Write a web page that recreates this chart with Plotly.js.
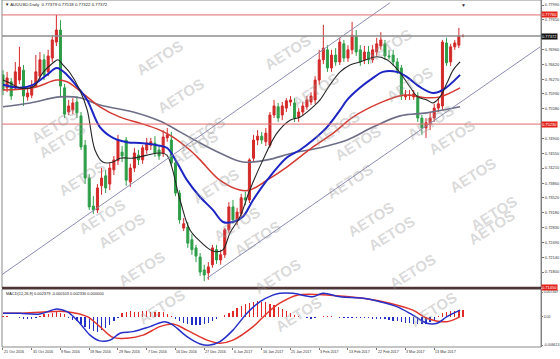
<!DOCTYPE html>
<html><head><meta charset="utf-8">
<script src="https://cdn.plot.ly/plotly-3.0.1.min.js"></script>
<style>html,body{margin:0;padding:0;background:#fff}#chart{width:560px;height:359px}</style>
</head><body><div id="chart"></div>
<script>
// ---------- DATA ----------
const openP = [0.7637,0.7607,0.7621,0.7607,0.7625,0.7648,0.7586,0.7590,0.7611,0.7634,
0.7672,0.7644,0.7676,0.7713,0.7741,0.7607,0.7551,0.7556,0.7574,0.7542,
0.7474,0.7398,0.7333,0.7324,0.7380,0.7403,0.7384,0.7417,0.7438,0.7458,
0.7486,0.7389,0.7421,0.7451,0.7440,0.7463,0.7474,0.7479,0.7463,0.7456,
0.7491,0.7486,0.7433,0.7363,0.7282,0.7284,0.7255,0.7236,0.7215,0.7185,
0.7178,0.7197,0.7232,0.7208,0.7220,0.7278,0.7331,0.7301,0.7315,0.7352,
0.7347,0.7444,0.7486,0.7495,0.7482,0.7474,0.7544,0.7563,0.7544,0.7560,
0.7574,0.7572,0.7539,0.7551,0.7563,0.7574,0.7579,0.7625,0.7672,0.7695,
0.7653,0.7683,0.7667,0.7709,0.7676,0.7695,0.7727,0.7695,0.7672,0.7690,
0.7672,0.7690,0.7704,0.7709,0.7681,0.7683,0.7667,0.7653,0.7586,0.7589,
0.7586,0.7588,0.7537,0.7514,0.7523,0.7537,0.7560,0.7565,0.7711,0.7667,
0.7702,0.7706,0.7727];
const highP = [0.7648,0.7644,0.7630,0.7667,0.7702,0.7660,0.7607,0.7625,0.7683,0.7690,
0.7685,0.7695,0.7729,0.7776,0.7764,0.7616,0.7579,0.7583,0.7588,0.7551,
0.7486,0.7407,0.7356,0.7384,0.7421,0.7417,0.7433,0.7449,0.7498,0.7472,
0.7493,0.7431,0.7468,0.7463,0.7474,0.7491,0.7491,0.7495,0.7472,0.7509,
0.7514,0.7505,0.7440,0.7370,0.7305,0.7296,0.7268,0.7243,0.7224,0.7197,
0.7203,0.7243,0.7243,0.7232,0.7282,0.7342,0.7347,0.7329,0.7361,0.7366,
0.7444,0.7498,0.7509,0.7505,0.7514,0.7551,0.7579,0.7572,0.7574,0.7583,
0.7588,0.7583,0.7560,0.7574,0.7588,0.7597,0.7634,0.7695,0.7753,0.7706,
0.7695,0.7699,0.7723,0.7718,0.7706,0.7760,0.7741,0.7706,0.7704,0.7704,
0.7706,0.7723,0.7736,0.7718,0.7695,0.7695,0.7676,0.7660,0.7602,0.7602,
0.7602,0.7597,0.7544,0.7537,0.7551,0.7570,0.7583,0.7718,0.7723,0.7709,
0.7718,0.7746,0.7731];
const lowP = [0.7590,0.7597,0.7579,0.7602,0.7616,0.7565,0.7577,0.7583,0.7607,0.7625,
0.7625,0.7634,0.7667,0.7704,0.7586,0.7537,0.7544,0.7546,0.7537,0.7463,
0.7384,0.7324,0.7315,0.7317,0.7359,0.7363,0.7370,0.7405,0.7428,0.7435,
0.7380,0.7377,0.7412,0.7428,0.7431,0.7454,0.7463,0.7447,0.7440,0.7447,
0.7482,0.7424,0.7356,0.7292,0.7275,0.7236,0.7220,0.7203,0.7171,0.7159,
0.7162,0.7190,0.7199,0.7197,0.7213,0.7271,0.7292,0.7289,0.7305,0.7335,
0.7340,0.7435,0.7474,0.7477,0.7472,0.7468,0.7537,0.7528,0.7532,0.7551,
0.7565,0.7528,0.7528,0.7542,0.7556,0.7567,0.7570,0.7614,0.7662,0.7644,
0.7644,0.7658,0.7660,0.7667,0.7667,0.7685,0.7681,0.7658,0.7662,0.7662,
0.7665,0.7681,0.7695,0.7672,0.7672,0.7658,0.7639,0.7579,0.7579,0.7579,
0.7579,0.7528,0.7498,0.7491,0.7509,0.7528,0.7551,0.7556,0.7658,0.7658,
0.7695,0.7699,0.7724];
const closeP = [0.7602,0.7630,0.7588,0.7644,0.7655,0.7588,0.7595,0.7611,0.7644,0.7672,
0.7637,0.7681,0.7718,0.7741,0.7611,0.7546,0.7565,0.7572,0.7549,0.7470,
0.7398,0.7331,0.7324,0.7375,0.7398,0.7375,0.7421,0.7440,0.7486,0.7449,
0.7393,0.7421,0.7456,0.7440,0.7468,0.7479,0.7482,0.7456,0.7449,0.7493,
0.7498,0.7433,0.7363,0.7301,0.7292,0.7247,0.7232,0.7217,0.7180,0.7173,
0.7192,0.7236,0.7208,0.7220,0.7278,0.7331,0.7301,0.7319,0.7352,0.7347,
0.7440,0.7486,0.7495,0.7486,0.7502,0.7544,0.7565,0.7537,0.7565,0.7577,
0.7579,0.7537,0.7551,0.7565,0.7579,0.7588,0.7625,0.7672,0.7699,0.7653,
0.7683,0.7667,0.7713,0.7676,0.7695,0.7729,0.7690,0.7667,0.7690,0.7672,
0.7695,0.7709,0.7718,0.7681,0.7679,0.7667,0.7648,0.7588,0.7590,0.7590,
0.7593,0.7537,0.7514,0.7526,0.7537,0.7560,0.7570,0.7713,0.7665,0.7702,
0.7711,0.7727,0.7727];

// moving averages (bar index, price)
const maBlackX = [0,1.7,4.1,7.3,9.7,12.2,13.4,14.6,16.3,18.7,20.5,22.4,24.3,26.8,28.5,31.7,35.1,38.2,39.9,43.1,45.5,48,50.4,52.1,53.6,55.3,57.7,60.1,63.3,66.7,69.9,72.3,75.5,77.2,79.6,82.1,84.5,86.9,91.1,93.5,95,96.7,99.1,101,103.2,104.7,106.4,108.1,109.6,111.3];
const maBlackY = [0.7625,0.7618,0.7607,0.7609,0.7642,0.7665,0.7672,0.7660,0.7642,0.7602,0.7556,0.7463,0.7435,0.7435,0.7444,0.7444,0.7451,0.7456,0.7451,0.7347,0.7278,0.7251,0.7232,0.7227,0.7232,0.7271,0.7308,0.7370,0.7440,0.7502,0.7532,0.7539,0.7563,0.7579,0.7614,0.7644,0.7660,0.7667,0.7679,0.7672,0.7660,0.7642,0.7609,0.7586,0.7579,0.7572,0.7586,0.7618,0.7648,0.7667];
const maBlueX = [0,4.1,7.3,10.7,13.1,15.6,18.7,20.5,23.6,26.8,30.2,33.4,37.5,39.9,42.4,44.8,48,51.1,53.6,56,58.4,60.9,64.3,69.2,72.3,75.5,78.9,82.1,83.8,86.9,90.1,92.5,95.9,98.4,101.5,104.7,107.1,111.3];
const maBlueY = [0.7614,0.7607,0.7614,0.7637,0.7653,0.7637,0.7602,0.7579,0.7516,0.7491,0.7481,0.7479,0.7474,0.7468,0.7433,0.7393,0.7354,0.7324,0.7296,0.7296,0.7308,0.7347,0.7393,0.7446,0.7463,0.7486,0.7516,0.7556,0.7579,0.7607,0.7630,0.7644,0.7644,0.7632,0.7609,0.7595,0.7602,0.7637];
const maRedX = [0,7.3,13.1,15.6,20.5,23.6,28.5,33.4,38.2,41.4,45.5,48,52.8,57.7,60.1,64.3,69.2,75.5,80.4,85.2,91.8,97.4,103.2,106.4,111.3];
const maRedY = [0.7602,0.7607,0.7625,0.7621,0.7586,0.7563,0.7539,0.7525,0.7509,0.7493,0.7463,0.7440,0.7393,0.7370,0.7370,0.7393,0.7424,0.7470,0.7502,0.7539,0.7572,0.7590,0.7584,0.7586,0.7607];
const maGreyX = [0,6.6,13.9,18.7,23.6,31.7,38.2,43.1,48,52.8,58.4,64.3,70.6,77.2,83.8,90.1,96.7,103.2,111.3];
const maGreyY = [0.7563,0.7572,0.7586,0.7584,0.7567,0.7551,0.7530,0.7505,0.7479,0.7456,0.7435,0.7440,0.7456,0.7468,0.7486,0.7516,0.7542,0.7549,0.7563];

// trend channel (two end points each)
const chanUpX = [-0.7, 94.2], chanUpY = [0.7171, 0.7804];
const chanLoX = [49.7, 130.8], chanLoY = [0.7166, 0.7702];

// horizontal levels
const levelRed = [0.7776, 0.7523];
const levelRedText = ['0.77760', '0.75230'];
const bidPrice = 0.7727, bidText = '0.77372';
const lowLevel = 0.7145, lowLevelText = '0.71450';

// MACD(12,26,9)
const macdHist = [0.0001,0.0001,0.0000,-0.0001,-0.0003,-0.0005,-0.0006,-0.0005,-0.0003,0.0003,
0.0006,0.0008,0.0010,0.0011,0.0010,0.0006,-0.0003,-0.0008,-0.0012,-0.0018,
-0.0026,-0.0033,-0.0038,-0.0040,-0.0036,-0.0030,-0.0022,-0.0012,-0.0004,0.0010,
0.0013,0.0014,0.0013,0.0013,0.0014,0.0014,0.0013,0.0013,0.0012,0.0011,
0.0008,0.0002,-0.0006,-0.0012,-0.0016,-0.0020,-0.0022,-0.0023,-0.0022,-0.0020,
-0.0017,-0.0012,-0.0007,-0.0002,0.0004,0.0010,0.0016,0.0022,0.0028,0.0032,
0.0036,0.0039,0.0040,0.0039,0.0037,0.0034,0.0030,0.0026,0.0020,0.0014,
0.0009,0.0005,0.0002,-0.0002,-0.0004,-0.0005,-0.0004,-0.0001,0.0002,0.0003,
0.0001,-0.0002,-0.0003,-0.0004,-0.0004,-0.0003,-0.0003,-0.0004,-0.0004,-0.0004,
-0.0005,-0.0005,-0.0006,-0.0007,-0.0008,-0.0010,-0.0012,-0.0014,-0.0016,-0.0017,
-0.0018,-0.0019,-0.0020,-0.0018,-0.0015,-0.0008,0.0003,0.0010,0.0012,0.0014,
0.0016,0.0018,0.0018];
const macdMainX = [0,4.1,9.0,13.1,15.6,18.7,21.2,23.6,26.1,28.5,31.7,35.8,39.4,41.4,44.8,48.0,50.4,52.8,56.0,59.4,62.6,65.7,67.4,70.6,75.5,77.9,82.1,87.7,91.8,95.9,99.8,103.2,105.7,108.1,111.3];
const macdMainY = [0.0009,0.0009,0.0007,0.0020,0.0013,-0.0017,-0.0048,-0.0063,-0.0061,-0.0043,-0.0039,-0.0026,-0.0013,-0.0022,-0.0052,-0.0071,-0.0074,-0.0065,-0.0035,0.0009,0.0039,0.0056,0.0061,0.0061,0.0052,0.0061,0.0052,0.0048,0.0039,0.0026,0.0004,-0.0017,-0.0017,0.0000,0.0017];
const macdSigX = [0,4.1,11.4,15.6,20.5,23.6,26.8,30.2,34.1,38.2,41.4,44.8,49.7,52.8,56.0,60.9,64.3,67.4,71.6,79.6,87.7,94.2,99.8,103.2,108.1,111.3];
const macdSigY = [0.0009,0.0009,0.0013,0.0013,0.0000,-0.0026,-0.0054,-0.0056,-0.0048,-0.0026,-0.0019,-0.0035,-0.0061,-0.0069,-0.0061,-0.0026,0.0009,0.0035,0.0056,0.0056,0.0048,0.0035,0.0017,-0.0004,-0.0013,0.0000];

// axis labels
const dateLabels = ['21 Oct 2016','31 Oct 2016','9 Nov 2016','18 Nov 2016','29 Nov 2016','7 Dec 2016','16 Dec 2016','27 Dec 2016','6 Jan 2017','16 Jan 2017','25 Jan 2017','3 Feb 2017','13 Feb 2017','22 Feb 2017','3 Mar 2017','13 Mar 2017'];
const dateBars = [0,7,14,21,28,35,42,49,56,63,70,77,84,91,98,105];
const priceTicks = [0.7799,0.7765,0.7696,0.7662,0.7627,0.7593,0.7558,0.7490,0.7455,0.7421,0.7386,0.7352,0.7318,0.7283,0.7249,0.7214,0.7180];
const priceTickText = ['0.77990','0.77650','0.76960','0.76620','0.76270','0.75930','0.75580','0.74900','0.74550','0.74210','0.73860','0.73520','0.73180','0.72830','0.72490','0.72140','0.71800'];
const macdTicks = [0.0064, 0, -0.0074];
const macdTickText = ['0.007467','0.00','-0.006613'];
const titleText = 'AUDUSD,Daily  0.77379 0.77518 0.77322 0.77372';
const macdText = 'MACD(12,26,9) 0.002379 -0.000103 0.002330 0.000000';

// ---------- CHART ----------
const barIdx = openP.map((_, i) => i);
const UP = '#d42a2a', DOWN = '#2e9e48';
const FONT = 'Liberation Sans, Arial, sans-serif';

const traces = [
  {type:'scatter', mode:'lines', x:maGreyX, y:maGreyY, line:{color:'#6e6e88', width:1.6, shape:'spline'}, hoverinfo:'skip'},
  {type:'scatter', mode:'lines', x:maRedX, y:maRedY, line:{color:'#d33a32', width:1.5, shape:'spline'}, hoverinfo:'skip'},
  {type:'scatter', mode:'lines', x:maBlueX, y:maBlueY, line:{color:'#1c24c4', width:2, shape:'spline'}, hoverinfo:'skip'},
  {type:'scatter', mode:'lines', x:maBlackX, y:maBlackY, line:{color:'#262626', width:1.1, shape:'spline'}, hoverinfo:'skip'},
  {type:'scatter', mode:'lines', x:chanUpX, y:chanUpY, line:{color:'#8c8cb4', width:1}, hoverinfo:'skip'},
  {type:'scatter', mode:'lines', x:chanLoX, y:chanLoY, line:{color:'#8c8cb4', width:1}, hoverinfo:'skip'},
  {type:'candlestick', x:barIdx, open:openP, high:highP, low:lowP, close:closeP,
   increasing:{line:{color:UP, width:1}, fillcolor:UP},
   decreasing:{line:{color:DOWN, width:1}, fillcolor:DOWN},
   whiskerwidth:0, hoverinfo:'skip'},
  {type:'bar', x:barIdx, y:macdHist, yaxis:'y2', width:0.32,
   marker:{color:macdHist.map(v => v >= 0 ? '#e02828' : '#2230c4'), line:{width:0}}, hoverinfo:'skip'},
  {type:'scatter', mode:'lines', x:macdSigX, y:macdSigY, yaxis:'y2', line:{color:'#e0352d', width:1.5, shape:'spline'}, hoverinfo:'skip'},
  {type:'scatter', mode:'lines', x:macdMainX, y:macdMainY, yaxis:'y2', line:{color:'#2630c8', width:1.5, shape:'spline'}, hoverinfo:'skip'}
];

const mainBottom = 0.1700, macdTop = 0.1671;
const shapes = [
  {type:'rect', xref:'paper', yref:'paper', x0:0, x1:1, y0:mainBottom, y1:1, line:{color:'#8a8a8a', width:1}},
  {type:'rect', xref:'paper', yref:'paper', x0:0, x1:1, y0:0, y1:macdTop, line:{color:'#8a8a8a', width:1}}
];
levelRed.forEach(v => shapes.push({type:'line', xref:'paper', yref:'y', x0:0, x1:1, y0:v, y1:v, line:{color:'#e06a6a', width:1}}));
shapes.push({type:'line', xref:'paper', yref:'y', x0:0, x1:1, y0:bidPrice, y1:bidPrice, line:{color:'#8e8e8e', width:1.6}});
shapes.push({type:'line', xref:'paper', yref:'paper', x0:0, x1:1, y0:mainBottom, y1:mainBottom, line:{color:'#4e3434', width:2.5}});

const ann = [];
// watermarks
const wm = [[26,102],[33,140],[53,178],[73,216],[93,254],[113,292],[133,330],
            [131,34],[152,72],[173,110],[194,148],[215,186],[236,224],[257,262],[277,300],[298,338],
            [287,29],[315,67],[336,105],[357,143],[378,181],[399,219],[420,257],[441,295],[462,333],
            [417,23],[438,61],[459,99],[480,137],[501,175],[522,213],[520,251]];
wm.forEach(p => ann.push({xref:'paper', yref:'paper', x:(p[0]-2)/539, y:(347-p[1])/347, text:'<b>AETOS</b>',
  showarrow:false, textangle:-32, font:{family:'Arial, Liberation Sans, sans-serif', size:15, color:'rgba(150,150,150,0.36)'}}));
dateBars.forEach((b, k) => ann.push({xref:'x', yref:'paper', x:b, y:0, xanchor:'left', yanchor:'top', yshift:-1, xshift:-1,
  text:dateLabels[k], showarrow:false, font:{family:FONT, size:3.7, color:'#333'}}));
levelRed.forEach((v, k) => ann.push({xref:'paper', yref:'y', x:1, y:v, xanchor:'left', yanchor:'middle', text:levelRedText[k],
  showarrow:false, bgcolor:'#e2231a', borderpad:0, font:{family:FONT, size:4, color:'#fff'}}));
ann.push({xref:'paper', yref:'y', x:1, y:bidPrice, xanchor:'left', yanchor:'middle', text:bidText,
  showarrow:false, bgcolor:'#111', borderpad:0, font:{family:FONT, size:4, color:'#fff'}});
ann.push({xref:'paper', yref:'y', x:1, y:lowLevel, xanchor:'left', yanchor:'middle', text:lowLevelText,
  showarrow:false, bgcolor:'#e2231a', borderpad:0, font:{family:FONT, size:4, color:'#fff'}});
ann.push({xref:'paper', yref:'paper', x:0.002, y:0.999, xanchor:'left', yanchor:'top', text:'▼ ' + titleText,
  showarrow:false, font:{family:FONT, size:4.3, color:'#222'}});
ann.push({xref:'paper', yref:'paper', x:0.004, y:0.153, xanchor:'left', yanchor:'middle', text:macdText,
  showarrow:false, font:{family:FONT, size:3.9, color:'#222'}});
ann.push({xref:'x', yref:'paper', x:112.2, y:1, xanchor:'center', yanchor:'top', text:'▼',
  showarrow:false, font:{family:FONT, size:5, color:'#333'}});

const layout = {
  width:560, height:359, margin:{l:2, r:19, t:0, b:12},
  paper_bgcolor:'#fff', plot_bgcolor:'#fff', showlegend:false,
  xaxis:{range:[-0.24, 131.0], anchor:'y2', showgrid:false, zeroline:false, showticklabels:false,
    tickvals:dateBars, ticks:'outside', ticklen:2, tickcolor:'#777', rangeslider:{visible:false}, fixedrange:true},
  yaxis:{domain:[mainBottom, 1], range:[0.71430, 0.78106], side:'right', showgrid:false, zeroline:false,
    tickvals:priceTicks, ticktext:priceTickText, ticks:'outside', ticklen:2, tickcolor:'#777',
    tickfont:{family:FONT, size:4, color:'#333'}, showline:true, linecolor:'#777', linewidth:1},
  yaxis2:{domain:[0, macdTop], range:[-0.0079, 0.0072], side:'right', showgrid:false, zeroline:false,
    tickvals:macdTicks, ticktext:macdTickText, ticks:'outside', ticklen:1, tickcolor:'#777',
    tickfont:{family:FONT, size:3.5, color:'#333'}, showline:true, linecolor:'#777', linewidth:1},
  bargap:0, shapes:shapes, annotations:ann
};
Plotly.newPlot('chart', traces, layout, {displayModeBar:false, staticPlot:true});
</script></body></html>
